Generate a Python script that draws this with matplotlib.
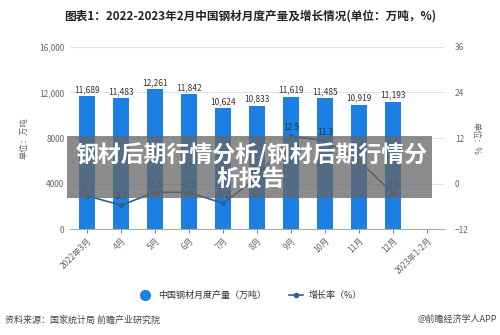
import matplotlib
matplotlib.use("Agg")
import matplotlib.pyplot as plt
from matplotlib.lines import Line2D
from matplotlib.patches import Rectangle

plt.rcParams['font.family'] = ['Noto Sans CJK SC', 'DejaVu Sans']

categories = ["2022年3月", "4月", "5月", "6月", "7月", "8月", "9月", "10月", "11月", "12月", "2023年1-2月"]
output = [11689, 11483, 12261, 11842, 10624, 10833, 11619, 11485, 10919, 11193]
growth = [-3.2, -5.7, -2.3, -2.3, -5.2, 1.5, 12.5, 11.3, 6.0, -2.6]
left_ticks = [0, 4000, 8000, 12000, 16000]
left_tick_labels = ["0", "4000", "8000", "12,000", "16,000"]
right_ticks = [-12, 0, 12, 24, 36]

bar_color = "#1b7fe3"
line_color = "#2d5f92"
tick_color = "#666666"
grid_color = "#e3e3e3"

fig = plt.figure(figsize=(5, 3.35), dpi=100)
ax = fig.add_axes([0.14, 0.316, 0.748, 0.544])
ax2 = ax.twinx()

x = list(range(len(categories)))
xb = x[:len(output)]
bars = ax.bar(xb, output, width=0.47, color=bar_color, zorder=2)
for xi, v in zip(xb, output):
    ax.text(xi, v + 180, f"{v:,}", ha="center", va="bottom", fontsize=6, color="#333333")

ax.set_xlim(-0.5, len(categories) - 0.5)
ax.set_ylim(0, 16000)
ax.set_yticks(left_ticks)
ax.set_yticklabels(left_tick_labels)
ax.yaxis.grid(True, color=grid_color, linewidth=0.8, zorder=0)
ax.set_axisbelow(True)
ax.set_xticks(x)
ax.set_xticklabels(categories, rotation=45, ha="right", rotation_mode="anchor")
ax.tick_params(axis="x", colors=tick_color, labelsize=6, length=3, width=0.6, direction="out", pad=2)
ax.tick_params(axis="y", colors=tick_color, labelsize=6, length=0, pad=4)
for s in ["top", "right", "left"]:
    ax.spines[s].set_visible(False)
ax.spines["bottom"].set_color("#aaaaaa")
ax.spines["bottom"].set_linewidth(0.8)
ax.set_ylabel("单位：万吨", fontsize=6, color=tick_color, labelpad=8)

ax2.plot(xb, growth, color=line_color, linewidth=1.2, marker="o", markersize=2.5,
         markerfacecolor=line_color, zorder=3)
for xi, v in zip(xb, growth):
    ax2.text(xi, v + 1.0, f"{v}", ha="center", va="bottom", fontsize=6, color="#333333")
ax2.set_ylim(-12, 36)
ax2.set_yticks(right_ticks)
ax2.tick_params(axis="y", colors=tick_color, labelsize=6, length=0, pad=8)
for s in ["top", "right", "left", "bottom"]:
    ax2.spines[s].set_visible(False)
ax2.set_ylabel("单位：%", fontsize=6, color=tick_color, rotation=270, labelpad=8)

fig.text(0.5, 0.953, "图表1：2022-2023年2月中国钢材月度产量及增长情况(单位：万吨，%)",
         ha="center", va="center", fontsize=8.4, fontweight="bold", color="#222222")

handles = [
    Line2D([], [], color=bar_color, marker="o", linestyle="none", markersize=7),
    Line2D([], [], color=line_color, marker="o", linestyle="-", markersize=3, linewidth=1.2),
]
fig.legend(handles, ["中国钢材月度产量（万吨）", "增长率（%）"], loc="center",
           bbox_to_anchor=(0.5, 0.119), ncol=2, frameon=False, fontsize=6.5,
           handlelength=1.6, columnspacing=2.5, handletextpad=0.6,
           labelcolor="#333333")

fig.text(0.01, 0.045, "资料来源：国家统计局 前瞻产业研究院", ha="left", va="center",
         fontsize=6.5, color="#444444")
fig.text(0.995, 0.045, "@前瞻经济学人APP", ha="right", va="center",
         fontsize=6.5, color="#444444")

# overlay banner
fig.patches.append(Rectangle((67 / 500, 1 - 198 / 335), (432 - 67) / 500, (198 - 136) / 335,
                             transform=fig.transFigure, facecolor="#666666", alpha=0.75,
                             edgecolor="none", zorder=10))
fig.text(0.502, 1 - 167 / 335, "钢材后期行情分析/钢材后期行情分\n析报告", ha="center", va="center",
         multialignment="center", fontsize=16.5, fontweight="bold", color="white",
         linespacing=1.05, zorder=11)

fig.savefig("out.png", dpi=100)
